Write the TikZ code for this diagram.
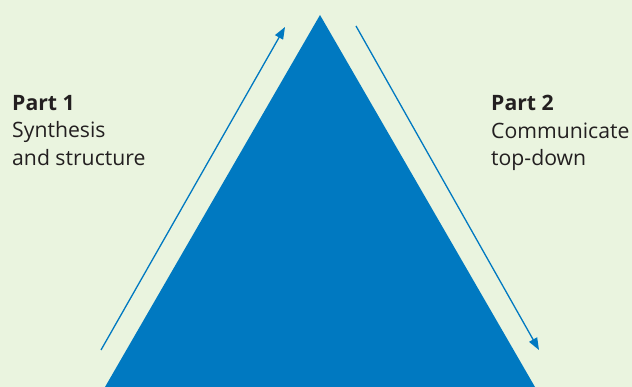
\documentclass[tikz,border=0pt]{standalone}
\usepackage{fontspec}
\setmainfont{Open Sans}
\usetikzlibrary{arrows.meta}
\definecolor{bgGreen}{HTML}{EAF4DF}
\definecolor{pyrBlue}{HTML}{0079C1}
\definecolor{txtDark}{HTML}{231F20}
\tikzstyle{flow} = [draw=pyrBlue,line width=1.3pt,-{Triangle[length=12pt,width=9pt]}]
\tikzstyle{partlabel} = [anchor=north west,align=left,inner sep=0pt,text=txtDark,font=\fontsize{21.2}{27.5}\selectfont]

\begin{document}
\begin{tikzpicture}[x=1pt,y=-1pt]
    % background and margins
    \fill[bgGreen] (0,0) rectangle (632,387);
    \useasboundingbox (0,0) rectangle (632,387);

    % the pyramid
    \coordinate (apex) at (320,15);
    \coordinate (baseL) at (105,387);
    \coordinate (baseR) at (535,387);
    \fill[pyrBlue] (apex) -- (baseR) -- (baseL) -- cycle;

    % up and down arrows
    \coordinate (upS) at (101,350);
    \coordinate (upE) at (285,27);
    \coordinate (downS) at (356,26);
    \coordinate (downE) at (539,350);
    \path[flow] (upS) -- (upE);
    \path[flow] (downS) -- (downE);

    % labels
    \node[partlabel] (part1) at (12,95) {\textbf{Part 1}\\Synthesis\\and structure};
    \node[partlabel] (part2) at (491,95) {\textbf{Part 2}\\Communicate\\top-down};
\end{tikzpicture}
\end{document}
